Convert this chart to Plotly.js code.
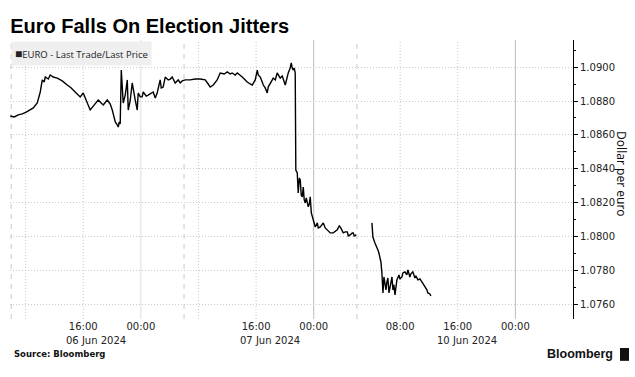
<!DOCTYPE html>
<html><head><meta charset="utf-8">
<script src="https://cdn.plot.ly/plotly-3.0.1.min.js"></script>
<style>html,body{margin:0;padding:0;background:#fff}#chart{width:635px;height:377px}</style>
</head><body><div id="chart"></div>
<script>
const chartTitle = 'Euro Falls On Election Jitters';
const seriesName = 'EURO - Last Trade/Last Price';
const yTitle = 'Dollar per euro';
const sourceText = 'Source: Bloomberg';

const times = [
'2024-06-06 05:52','2024-06-06 06:25','2024-06-06 06:59','2024-06-06 07:32','2024-06-06 08:05','2024-06-06 08:39','2024-06-06 09:04','2024-06-06 09:37','2024-06-06 10:02','2024-06-06 10:19',
'2024-06-06 10:35','2024-06-06 10:44','2024-06-06 11:09','2024-06-06 11:25','2024-06-06 11:50','2024-06-06 12:24','2024-06-06 13:05','2024-06-06 13:47','2024-06-06 14:20','2024-06-06 14:53',
'2024-06-06 15:18','2024-06-06 15:35','2024-06-06 16:00','2024-06-06 16:25','2024-06-06 16:58','2024-06-06 17:32','2024-06-06 18:05','2024-06-06 18:30','2024-06-06 18:47','2024-06-06 19:20',
'2024-06-06 19:45','2024-06-06 20:02','2024-06-06 20:27','2024-06-06 20:43','2024-06-06 20:52','2024-06-06 21:00','2024-06-06 21:08','2024-06-06 21:17','2024-06-06 21:25','2024-06-06 21:33',
'2024-06-06 21:50','2024-06-06 22:07','2024-06-06 22:15','2024-06-06 22:32','2024-06-06 22:48','2024-06-06 22:57','2024-06-06 23:13','2024-06-06 23:30','2024-06-06 23:38','2024-06-06 23:55',
'2024-06-07 00:11','2024-06-07 00:20','2024-06-07 00:45','2024-06-07 01:01','2024-06-07 01:26','2024-06-07 01:43','2024-06-07 02:00','2024-06-07 02:16','2024-06-07 02:41','2024-06-07 02:50',
'2024-06-07 03:06','2024-06-07 03:23','2024-06-07 03:48','2024-06-07 04:05','2024-06-07 04:21','2024-06-07 04:46','2024-06-07 05:11','2024-06-07 05:28','2024-06-07 05:45','2024-06-07 06:10',
'2024-06-07 06:51','2024-06-07 07:33','2024-06-07 08:15','2024-06-07 08:56','2024-06-07 09:21','2024-06-07 09:38','2024-06-07 10:03','2024-06-07 10:20','2024-06-07 10:36','2024-06-07 11:01',
'2024-06-07 11:35','2024-06-07 12:00','2024-06-07 12:25','2024-06-07 12:41','2024-06-07 13:06','2024-06-07 13:23','2024-06-07 13:48','2024-06-07 14:05','2024-06-07 14:30','2024-06-07 14:46',
'2024-06-07 15:11','2024-06-07 15:28','2024-06-07 15:53','2024-06-07 16:10','2024-06-07 16:18','2024-06-07 16:35','2024-06-07 16:51','2024-06-07 17:00','2024-06-07 17:16','2024-06-07 17:33',
'2024-06-07 17:41','2024-06-07 17:58','2024-06-07 18:23','2024-06-07 18:40','2024-06-07 18:56','2024-06-07 19:21','2024-06-07 19:38','2024-06-07 20:03','2024-06-07 20:11','2024-06-07 20:28',
'2024-06-07 20:44','2024-06-07 20:53','2024-06-07 21:01','2024-06-07 21:10','2024-06-07 21:18','2024-06-07 21:26','2024-06-07 21:31','2024-06-07 21:43','2024-06-07 21:51','2024-06-07 22:00',
'2024-06-07 22:08','2024-06-07 22:16','2024-06-07 22:25','2024-06-07 22:33','2024-06-07 22:41','2024-06-07 22:50','2024-06-07 22:58','2024-06-07 23:15','2024-06-07 23:23','2024-06-07 23:31',
'2024-06-07 23:40','2024-06-07 23:56','2024-06-08 00:13','2024-06-08 00:30','2024-06-08 00:38','2024-06-08 00:55','2024-06-08 01:11','2024-06-08 01:20','2024-06-08 01:36','2024-06-08 01:53',
'2024-06-08 02:18','2024-06-08 02:43','2024-06-08 03:00','2024-06-08 03:16','2024-06-08 03:33','2024-06-08 03:41','2024-06-08 03:58','2024-06-08 04:06','2024-06-08 04:23','2024-06-08 04:40',
'2024-06-08 04:48','2024-06-08 05:04','2024-06-08 05:21','2024-06-08 05:29','2024-06-08 05:38','2024-06-08 05:54',
'2024-06-10 03:00',
'2024-06-10 04:05','2024-06-10 04:13','2024-06-10 04:30','2024-06-10 04:47','2024-06-10 04:55','2024-06-10 05:03','2024-06-10 05:12','2024-06-10 05:20','2024-06-10 05:28','2024-06-10 05:37',
'2024-06-10 05:45','2024-06-10 05:53','2024-06-10 06:02','2024-06-10 06:10','2024-06-10 06:18','2024-06-10 06:27','2024-06-10 06:35','2024-06-10 06:43','2024-06-10 06:52','2024-06-10 07:00',
'2024-06-10 07:08','2024-06-10 07:17','2024-06-10 07:25','2024-06-10 07:33','2024-06-10 07:50','2024-06-10 07:58','2024-06-10 08:15','2024-06-10 08:23','2024-06-10 08:40','2024-06-10 08:56',
'2024-06-10 09:05','2024-06-10 09:21','2024-06-10 09:30','2024-06-10 09:46','2024-06-10 10:03','2024-06-10 10:11','2024-06-10 10:28','2024-06-10 10:45','2024-06-10 11:01','2024-06-10 11:18',
'2024-06-10 11:26','2024-06-10 11:43','2024-06-10 11:51','2024-06-10 12:08','2024-06-10 12:16'
];

const prices = [
1.08712,1.08706,1.08718,1.08724,1.08735,1.08747,1.08759,1.08788,1.08853,1.08924,
1.08912,1.08941,1.08929,1.08953,1.08941,1.08935,1.08918,1.08894,1.08877,1.08853,
1.08835,1.08824,1.08847,1.08806,1.08747,1.08777,1.08806,1.08788,1.08777,1.08806,
1.08782,1.08747,1.08677,1.08659,1.08647,1.08677,1.08665,1.08982,1.08865,1.08788,
1.08835,1.08924,1.08747,1.08806,1.08906,1.08865,1.08806,1.08747,1.08847,1.08824,
1.08824,1.08853,1.08829,1.08835,1.08847,1.08853,1.08818,1.08847,1.08924,1.08877,
1.08882,1.08941,1.08924,1.08929,1.08941,1.08906,1.08924,1.08906,1.08918,1.08924,
1.08924,1.08929,1.08929,1.08924,1.08900,1.08882,1.08894,1.08912,1.08924,1.08965,
1.08959,1.08971,1.08959,1.08965,1.08953,1.08965,1.08953,1.08941,1.08924,1.08912,
1.08900,1.08894,1.08924,1.08982,1.08953,1.08941,1.08912,1.08894,1.08877,1.08847,
1.08882,1.08906,1.08935,1.08924,1.08965,1.08935,1.08947,1.08894,1.08924,1.08965,
1.08994,1.09024,1.08994,1.08982,1.08994,1.08965,1.08394,1.08377,1.08259,1.08347,
1.08336,1.08247,1.08236,1.08294,1.08218,1.08200,1.08230,1.08177,1.08194,1.08236,
1.08142,1.08100,1.08059,1.08083,1.08053,1.08059,1.08071,1.08083,1.08053,1.08042,
1.08024,1.08024,1.08036,1.08042,1.08065,1.08059,1.08036,1.08024,1.08030,1.08030,
1.08006,1.08012,1.08024,1.08024,1.08006,1.08012,
null,
1.08083,1.08000,1.07965,1.07942,1.07924,1.07906,1.07883,1.07853,1.07789,1.07671,
1.07765,1.07730,1.07689,1.07736,1.07759,1.07671,1.07706,1.07748,1.07765,1.07689,
1.07718,1.07659,1.07706,1.07748,1.07777,1.07753,1.07765,1.07789,1.07795,1.07777,
1.07806,1.07765,1.07783,1.07795,1.07759,1.07771,1.07748,1.07753,1.07736,1.07718,
1.07706,1.07689,1.07671,1.07665,1.07653
];

const tickTimes = ['2024-06-06 16:00','2024-06-07 00:00','2024-06-07 16:00','2024-06-08 00:00','2024-06-10 08:00','2024-06-10 16:00','2024-06-11 00:00'];
const tickLabels = ['16:00','00:00','16:00','00:00','08:00','16:00','00:00'];
const dateLabels = ['06 Jun 2024','07 Jun 2024','10 Jun 2024'];
const dateLabelTimes = ['2024-06-06 17:50','2024-06-07 17:55','2024-06-10 17:15'];
const dottedLines = ['2024-06-06 08:00','2024-06-06 16:00','2024-06-07 08:00','2024-06-07 16:00','2024-06-10 08:00','2024-06-10 16:00'];
const lightSolidLines = ['2024-06-07 00:00'];
const solidLines = ['2024-06-08 00:00','2024-06-11 00:00'];
const dashedLines = ['2024-06-06 06:00','2024-06-07 06:00','2024-06-10 02:00'];
const weekendBreak = ['2024-06-08 06:00','2024-06-10 02:00'];
const xRange = ['2024-06-06 05:50','2024-06-11 08:00'];
const yRange = [1.075176, 1.091588];

const mono = 'DejaVu Sans, Verdana, sans-serif';
const shapes = [];
function vline(t, color, dash) {
  shapes.push({type:'line', xref:'x', yref:'paper', x0:t, x1:t, y0:0, y1:1, layer:'below',
    line:{color:color, width:1, dash:dash}});
}
dottedLines.forEach(t => vline(t, '#c8c8c8', '1px,2px'));
lightSolidLines.forEach(t => vline(t, '#dedede', 'solid'));
solidLines.forEach(t => vline(t, '#bdbdbd', 'solid'));
dashedLines.forEach(t => vline(t, '#c8c8c8', '5px,5px'));
// Bloomberg logo icon
shapes.push({type:'rect', xref:'paper', yref:'paper', x0:1.0835, x1:1.0995, y0:-0.15, y1:-0.104, fillcolor:'#111', line:{width:0}});

const annotations = [];
dateLabels.forEach((d, i) => annotations.push({text:d, x:dateLabelTimes[i], xref:'x', y:-0.077, yref:'paper',
  xanchor:'center', yanchor:'middle', showarrow:false, font:{family:mono, size:10, color:'#222'}}));
annotations.push({text:'<span style="font-size:12px">\u25A0</span>' + seriesName, x:0.001, y:0.996, xref:'paper', yref:'paper', xanchor:'left', yanchor:'top',
  showarrow:false, bgcolor:'#efefef', borderpad:3, font:{family:'Open Sans, sans-serif', size:9.5, color:'#222'}});
annotations.push({text:yTitle, textangle:90, x:1.085, y:0.52, xref:'paper', yref:'paper', xanchor:'center', yanchor:'middle',
  showarrow:false, font:{family:'Noto Sans, sans-serif', size:12, color:'#111'}});
annotations.push({text:'<b>' + sourceText + '</b>', x:0.004, y:-0.125, xref:'paper', yref:'paper', xanchor:'left', yanchor:'middle',
  showarrow:false, font:{family:mono, size:8.5, color:'#111'}});
annotations.push({text:'<b>Bloomberg</b>', x:1.075, y:-0.125, xref:'paper', yref:'paper', xanchor:'right', yanchor:'middle',
  showarrow:false, font:{family:'Liberation Sans, Arial, sans-serif', size:12.5, color:'#111'}});

const trace = {
  type:'scatter', mode:'lines', name:seriesName, x:times, y:prices, connectgaps:false,
  line:{color:'#000', width:1.4}, hoverinfo:'skip'
};

const layout = {
  width:635, height:377,
  margin:{l:10, r:62, t:40, b:58},
  paper_bgcolor:'#fff', plot_bgcolor:'#fff',
  showlegend:false,
  title:{text:'<b>' + chartTitle + '</b>', xref:'container', yref:'container', x:0.016, xanchor:'left', y:0.932, yanchor:'middle',
    font:{family:'Liberation Sans, Arial, sans-serif', size:20, color:'#000'}},
  xaxis:{type:'date', range:xRange, rangebreaks:[{bounds:weekendBreak}], tickmode:'array', tickvals:tickTimes, ticktext:tickLabels,
    showgrid:false, zeroline:false, showline:false, ticks:'', tickfont:{family:mono, size:10, color:'#222'}},
  yaxis:{side:'right', range:yRange, tickmode:'linear', tick0:1.076, dtick:0.002, tickformat:'.4f',
    showgrid:true, gridcolor:'#cccccc', griddash:'1px,2px', gridwidth:1, zeroline:false,
    showline:true, linecolor:'#000', linewidth:1, ticks:'outside', ticklen:4, tickcolor:'#000',
    minor:{dtick:0.001, tick0:1.076, ticks:'outside', ticklen:2, tickcolor:'#000', showgrid:false},
    tickfont:{family:mono, size:10, color:'#222'}},
  shapes:shapes, annotations:annotations
};

Plotly.newPlot('chart', [trace], layout, {displayModeBar:false, staticPlot:true});
</script>
</body></html>
